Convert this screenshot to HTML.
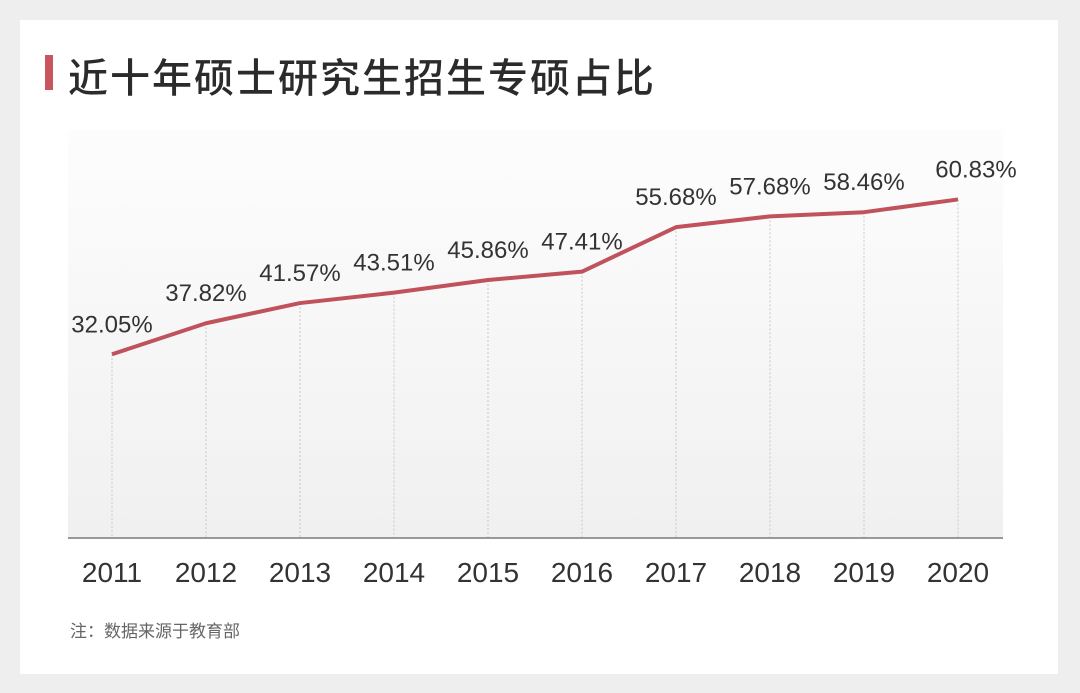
<!DOCTYPE html>
<html><head><meta charset="utf-8"><style>
body{margin:0;width:1080px;height:693px;background:#eeeeee;overflow:hidden;font-family:"Liberation Sans","Noto Sans CJK SC",sans-serif}
#card{position:absolute;left:20px;top:20px;width:1038px;height:654px;background:#fff}
#bar{position:absolute;left:45px;top:55px;width:8px;height:35px;background:#c9565e}
#title{position:absolute;left:68px;top:46px;font-size:40px;color:#2b2b2b;font-weight:500;letter-spacing:2px;font-family:"Noto Sans CJK SC",sans-serif}
#note{position:absolute;left:70px;top:617px;font-size:17px;color:#666;font-family:"Noto Sans CJK SC",sans-serif}
svg{position:absolute;left:0;top:0}
</style></head><body>
<div id="card"></div>
<div id="bar"></div>
<div id="title">近十年硕士研究生招生专硕占比</div>
<div id="note">注：数据来源于教育部</div>
<svg id="chart" width="1080" height="693">
<defs><linearGradient id="bg" x1="0" y1="0" x2="0" y2="1"><stop offset="0" stop-color="#fdfdfd"/><stop offset="1" stop-color="#f0f0f0"/></linearGradient></defs>
<rect x="68" y="130" width="935" height="408" fill="url(#bg)"/>
</svg>
<script>
const years=["2011","2012","2013","2014","2015","2016","2017","2018","2019","2020"];
const values=[32.05,37.82,41.57,43.51,45.86,47.41,55.68,57.68,58.46,60.83];
const valueLabels=["32.05%","37.82%","41.57%","43.51%","45.86%","47.41%","55.68%","57.68%","58.46%","60.83%"];
const svg=document.getElementById('chart');const NS='http://www.w3.org/2000/svg';
function x(i){return 112+i*94;}
function y(v){return 268-5.38*(v-48.087);}
function mk(t,a){const e=document.createElementNS(NS,t);for(const k in a)e.setAttribute(k,a[k]);svg.appendChild(e);return e;}
years.forEach((yr,i)=>{
 const g=mk('line',{x1:x(i),x2:x(i),y1:y(values[i]),y2:538,stroke:'#c8c8c8','stroke-width':1,'stroke-dasharray':'2,2'});
 
 
 const t=mk('text',{x:x(i),y:582,'text-anchor':'middle','font-size':28,fill:'#333'});t.textContent=yr;
 
 
});
const base=mk('line',{x1:68,x2:1003,y1:538,y2:538,stroke:'#999','stroke-width':2});


const p=mk('polyline',{points:values.map((v,i)=>x(i)+','+y(v)).join(' '),fill:'none',stroke:'#c0525c','stroke-width':4,'stroke-linejoin':'round'});


values.forEach((v,i)=>{
 const t=mk('text',{x:x(i)+(i==9?18:0),y:y(v)-22,'text-anchor':'middle','font-size':24,fill:'#333'});t.textContent=valueLabels[i];
 
 
});
</script>
</body></html>
